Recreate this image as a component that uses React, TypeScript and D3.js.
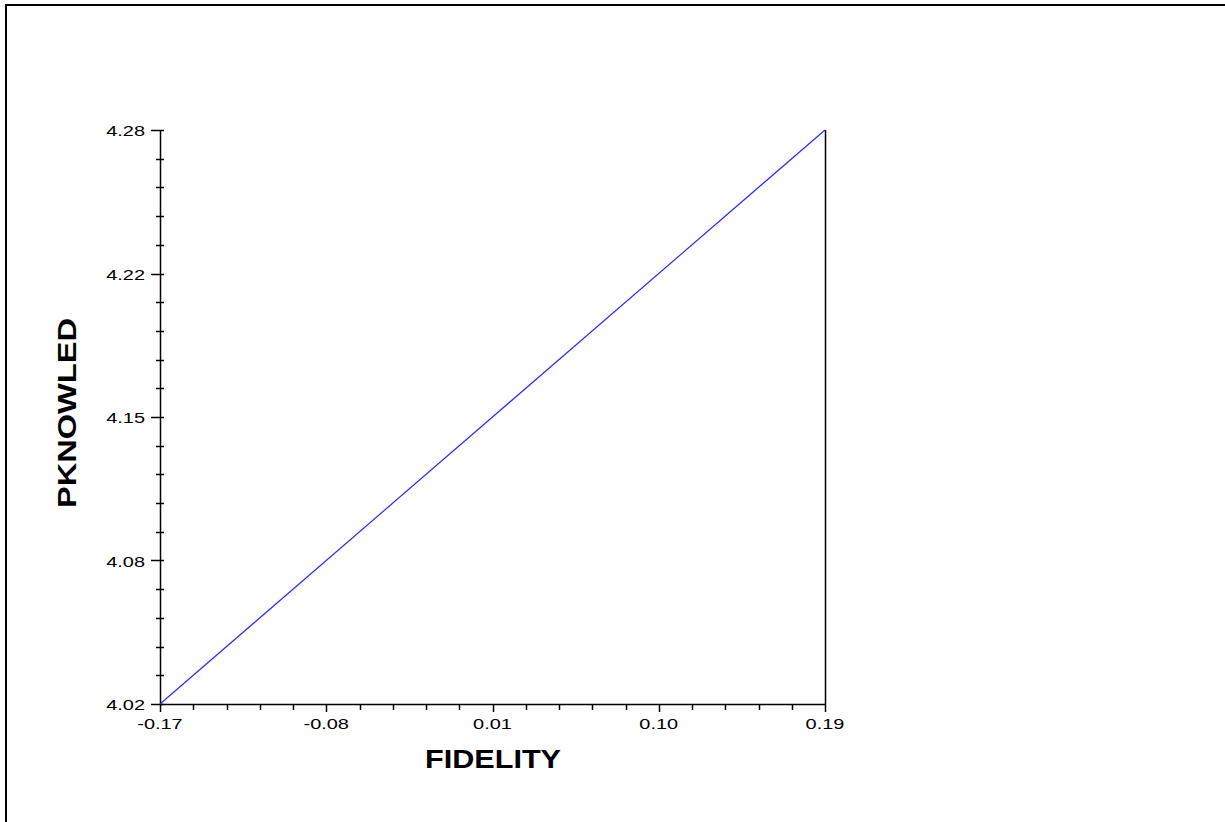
import React, { useEffect, useRef } from 'react';
import * as d3 from 'd3';

// regression line end points
const fidelity = [-0.17, 0.19];
const pknowled = [4.02, 4.28];

const xTickValues = [-0.17, -0.08, 0.01, 0.1, 0.19];
const xTickLabels = ['-0.17', '-0.08', '0.01', '0.10', '0.19'];
const yTickValues = [4.02, 4.085, 4.15, 4.215, 4.28];
const yTickLabels = ['4.02', '4.08', '4.15', '4.22', '4.28'];

const W = 1225;
const H = 822;

export default function App() {
  const svgRef = useRef<SVGSVGElement>(null);

  useEffect(() => {
    const svg = d3.select(svgRef.current);
    svg.selectAll('*').remove();

    const x = d3.scaleLinear().domain([-0.17, 0.19]).range([160, 825]);
    const y = d3.scaleLinear().domain([4.02, 4.28]).range([704, 130]);

    // outer frame
    svg
      .append('rect')
      .attr('x', 6)
      .attr('y', 5)
      .attr('width', W + 10)
      .attr('height', H + 10)
      .attr('fill', '#fff')
      .attr('stroke', '#000')
      .attr('stroke-width', 2);

    // minor ticks (5 per major interval)
    const minorX: number[] = [];
    for (let i = 0; i < xTickValues.length - 1; i++) {
      const a = xTickValues[i], b = xTickValues[i + 1];
      for (let k = 1; k < 5; k++) minorX.push(a + ((b - a) * k) / 5);
    }
    const minorY: number[] = [];
    for (let i = 0; i < yTickValues.length - 1; i++) {
      const a = yTickValues[i], b = yTickValues[i + 1];
      for (let k = 1; k < 5; k++) minorY.push(a + ((b - a) * k) / 5);
    }

    const g = svg.append('g').attr('stroke', '#000').attr('stroke-width', 1.5);

    g.selectAll('.my')
      .data(minorY)
      .join('line')
      .attr('x1', 156)
      .attr('x2', 164)
      .attr('y1', (d) => Math.round(y(d)) + 0.5)
      .attr('y2', (d) => Math.round(y(d)) + 0.5);

    g.selectAll('.My')
      .data(yTickValues)
      .join('line')
      .attr('x1', 151)
      .attr('x2', 164)
      .attr('y1', (d) => Math.round(y(d)) + 0.5)
      .attr('y2', (d) => Math.round(y(d)) + 0.5);

    g.selectAll('.mx')
      .data(minorX)
      .join('line')
      .attr('x1', (d) => Math.round(x(d)) + 0.5)
      .attr('x2', (d) => Math.round(x(d)) + 0.5)
      .attr('y1', 704)
      .attr('y2', 710);

    g.selectAll('.Mx')
      .data(xTickValues)
      .join('line')
      .attr('x1', (d) => Math.round(x(d)) + 0.5)
      .attr('x2', (d) => Math.round(x(d)) + 0.5)
      .attr('y1', 704)
      .attr('y2', 712);

    // axis lines + right edge
    g.append('line').attr('x1', 160.5).attr('x2', 160.5).attr('y1', y(4.28)).attr('y2', y(4.02));
    g.append('line').attr('x1', 160).attr('x2', 825.5).attr('y1', 704.5).attr('y2', 704.5);
    g.append('line').attr('x1', 825.5).attr('x2', 825.5).attr('y1', y(4.28)).attr('y2', y(4.02));

    // tick labels (stretched horizontally like the original)
    svg
      .append('g')
      .attr('font-family', 'Liberation Sans, Arial, sans-serif')
      .attr('font-size', 15)
      .attr('text-anchor', 'end')
      .selectAll('text')
      .data(yTickValues)
      .join('text')
      .attr('transform', (d) => `translate(145,${y(d) + 6}) scale(1.33,1)`)
      .text((d, i) => yTickLabels[i]);

    svg
      .append('g')
      .attr('font-family', 'Liberation Sans, Arial, sans-serif')
      .attr('font-size', 15)
      .attr('text-anchor', 'middle')
      .selectAll('text')
      .data(xTickValues)
      .join('text')
      .attr('transform', (d) => `translate(${x(d)},729) scale(1.33,1)`)
      .text((d, i) => xTickLabels[i]);

    // line
    const line = d3
      .line<number>()
      .x((d, i) => x(fidelity[i]))
      .y((d) => y(d));
    svg
      .append('path')
      .datum(pknowled)
      .attr('d', line)
      .attr('fill', 'none')
      .attr('stroke', '#2a2aff')
      .attr('stroke-width', 1.2);

    // axis titles
    svg
      .append('text')
      .attr('x', 493)
      .attr('y', 768)
      .attr('text-anchor', 'middle')
      .attr('font-family', 'Liberation Sans, Arial, sans-serif')
      .attr('font-weight', 'bold')
      .attr('font-size', 26)
      .attr('textLength', 136)
      .attr('lengthAdjust', 'spacingAndGlyphs')
      .text('FIDELITY');

    svg
      .append('text')
      .attr('transform', 'translate(76,413) rotate(-90)')
      .attr('text-anchor', 'middle')
      .attr('font-family', 'Liberation Sans, Arial, sans-serif')
      .attr('font-weight', 'bold')
      .attr('font-size', 26)
      .attr('textLength', 190)
      .attr('lengthAdjust', 'spacingAndGlyphs')
      .text('PKNOWLED');
  }, []);

  return (
    <svg
      ref={svgRef}
      width={W}
      height={H}
      style={{ position: 'absolute', left: 0, top: 0, background: '#fff' }}
    />
  );
}
